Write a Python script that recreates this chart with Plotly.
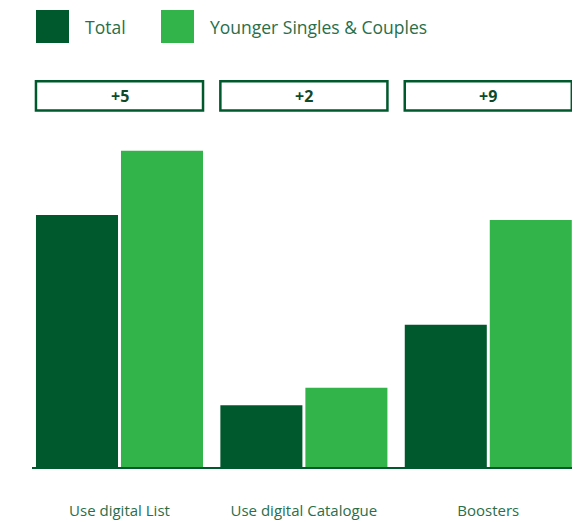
import plotly.graph_objects as go

# Data
categories = ["Use digital List", "Use digital Catalogue", "Boosters"]
total = [20.0, 4.9, 11.3]
younger = [25.1, 6.3, 19.6]
diff_labels = ["+5", "+2", "+9"]
series_names = ["Total", "Younger Singles & Couples"]

DARK = "#00592d"
LIGHT = "#33b44a"
TEXT = "#2a6e4a"
FONT = "Open Sans"

fig = go.Figure()
fig.add_trace(go.Bar(x=categories, y=total, name=series_names[0],
                     marker=dict(color=DARK, line=dict(width=0))))
fig.add_trace(go.Bar(x=categories, y=younger, name=series_names[1],
                     marker=dict(color=LIGHT, line=dict(width=0))))

# Difference boxes above each category group
half = 0.453
for i, lab in enumerate(diff_labels):
    fig.add_shape(type="rect", xref="x", yref="paper", layer="below",
                  x0=i - half, x1=i + half, y0=1.058, y1=1.145,
                  line=dict(color=DARK, width=2.5), fillcolor="rgba(0,0,0,0)")
    fig.add_annotation(x=i, xref="x", y=1.1015, yref="paper", yanchor="middle",
                       text=f"<b>{lab}</b>", showarrow=False,
                       font=dict(family=FONT, size=16, color="#0d4a2a"))

# Legend drawn as swatches with labels
legend_items = [(series_names[0], DARK, 36, 83), (series_names[1], LIGHT, 161, 208)]
for name, col, sx, tx in legend_items:
    fig.add_shape(type="rect", xref="paper", yref="paper",
                  x0=(sx - 32) / 540, x1=(sx + 33 - 32) / 540,
                  y0=(467 - 43) / 337, y1=(467 - 10) / 337,
                  line=dict(width=0), fillcolor=col)
    fig.add_annotation(x=(tx - 32) / 540, xref="paper", xanchor="left",
                       y=(467 - 27) / 337, yref="paper", yanchor="middle",
                       text=name, showarrow=False,
                       font=dict(family=FONT, size=17.5, color=TEXT))

fig.update_layout(
    width=576, height=522,
    margin=dict(l=32, r=4, t=130, b=55),
    paper_bgcolor="white", plot_bgcolor="white",
    barmode="group", bargap=0.078, bargroupgap=0.035,
    showlegend=False,
    font=dict(family=FONT, color=TEXT),
)
fig.update_xaxes(range=[-0.4745, 2.454], showline=True, linecolor=DARK, linewidth=2,
                 ticks="", showgrid=False, ticklabelstandoff=29, automargin=False,
                 tickfont=dict(family=FONT, size=15, color=TEXT))
fig.update_yaxes(range=[0, 26.75], visible=False, showgrid=False, zeroline=False,
                 automargin=False)

fig.write_html("out.html")
